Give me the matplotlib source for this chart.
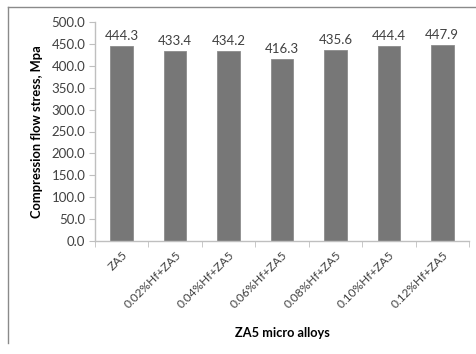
import matplotlib.pyplot as plt
from matplotlib.lines import Line2D

plt.rcParams['font.family'] = ['Lato', 'DejaVu Sans']

alloys = ["ZA5", "0.02%Hf+ZA5", "0.04%Hf+ZA5", "0.06%Hf+ZA5",
          "0.08%Hf+ZA5", "0.10%Hf+ZA5", "0.12%Hf+ZA5"]
stress = [444.3, 433.4, 434.2, 416.3, 435.6, 444.4, 447.9]
yticks = [0, 50, 100, 150, 200, 250, 300, 350, 400, 450, 500]

W, H = 477, 354
fig = plt.figure(figsize=(W / 100, H / 100), dpi=100)
ax = fig.add_axes([95 / W, 1 - 241 / H, (469 - 95) / W, (241 - 22) / H])

x = range(len(alloys))
bars = ax.bar(x, stress, width=0.42, color="#777777", edgecolor="#8c8c8c", linewidth=0.6)
for b, v in zip(bars, stress):
    ax.text(b.get_x() + b.get_width() / 2, v + 9, "%.1f" % v,
            ha="center", va="bottom", fontsize=9.5, color="#404040")

ax.set_xlim(-0.5, len(alloys) - 0.5)
ax.set_ylim(0, 500)
ax.set_yticks(yticks)
ax.set_yticklabels(["%.1f" % t for t in yticks], fontsize=9.5, color="#404040")
ax.set_xticks(x)
ax.set_xticklabels(alloys, rotation=45, ha="right", rotation_mode="anchor",
                   fontsize=8.6, color="#404040")
ax.set_xticks([i - 0.5 for i in range(len(alloys) + 1)], minor=True)
ax.tick_params(axis="x", which="major", length=0, pad=6)
ax.tick_params(axis="x", which="minor", length=4, color="#bfbfbf", direction="out")
ax.tick_params(axis="y", length=4, color="#bfbfbf", direction="out", pad=3)

for s in ["top", "right"]:
    ax.spines[s].set_visible(False)
for s in ["left", "bottom"]:
    ax.spines[s].set_color("#bfbfbf")
    ax.spines[s].set_linewidth(1.0)

ax.set_ylabel("Compression flow stress, Mpa", fontsize=9.3, fontweight="bold", labelpad=6)
fig.text(282 / W, 1 - 333 / H, "ZA5 micro alloys", ha="center", va="center",
         fontsize=9.2, fontweight="bold")

# chart frame (top and left edges)
fig.add_artist(Line2D([8 / W, 1], [1 - 7 / H, 1 - 7 / H], color="#8a8a8a", lw=1.0))
fig.add_artist(Line2D([8 / W, 8 / W], [1 - 7 / H, 1 - 343 / H], color="#8a8a8a", lw=1.0))

fig.savefig("out.png", dpi=100)
